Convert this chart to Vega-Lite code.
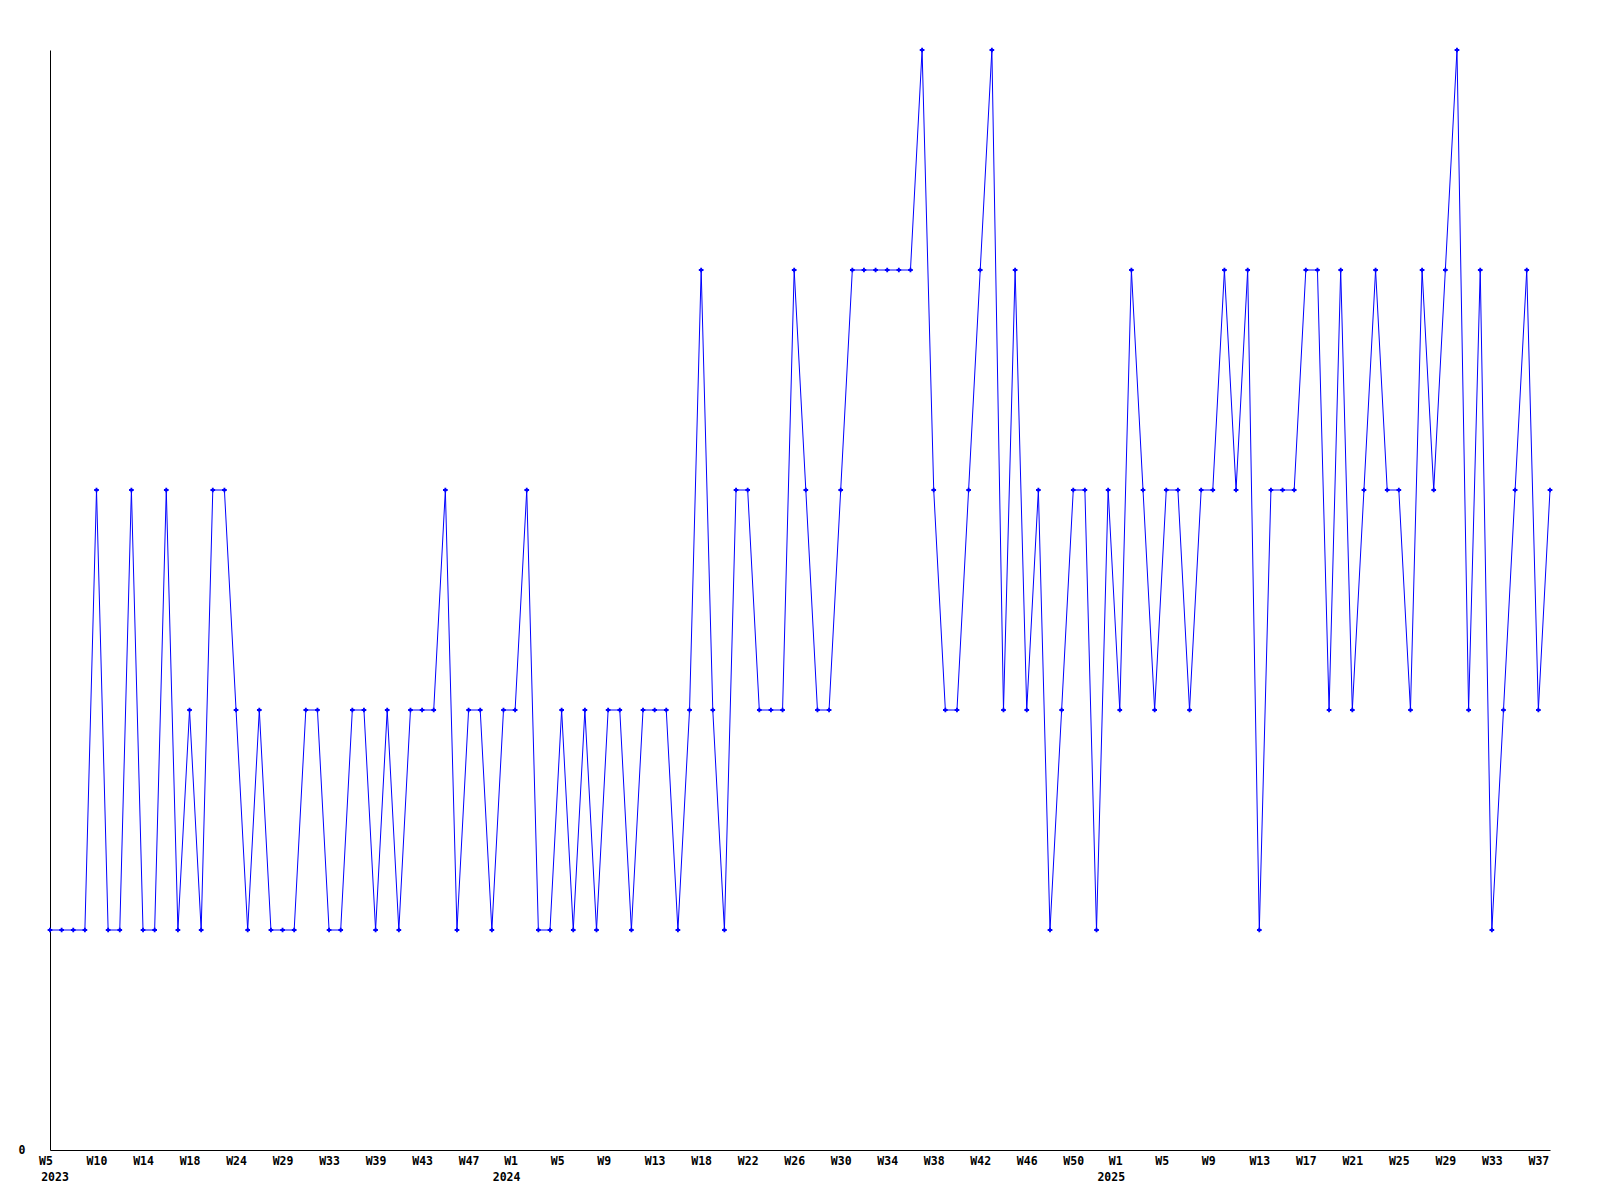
{
  "$schema": "https://vega.github.io/schema/vega-lite/v6.json",
  "width": 1500,
  "height": 1100,
  "autosize": {"type": "none"},
  "padding": {"left": 50, "top": 50, "right": 50, "bottom": 50},
  "background": "white",
  "config": {
    "view": {"stroke": null},
    "font": "DejaVu Sans Mono",
    "axis": {"labelFont": "DejaVu Sans Mono", "labelFontWeight": "bold", "labelFontSize": 11.5, "labelColor": "black", "domainColor": "black", "grid": false, "title": null}
  },
  "data": {"values": [
    {"wk":"2023-W5","v":1},{"wk":"2023-W6","v":1},{"wk":"2023-W7","v":1},{"wk":"2023-W8","v":1},
    {"wk":"2023-W10","v":3},{"wk":"2023-W11","v":1},{"wk":"2023-W12","v":1},{"wk":"2023-W13","v":3},
    {"wk":"2023-W14","v":1},{"wk":"2023-W15","v":1},{"wk":"2023-W16","v":3},{"wk":"2023-W17","v":1},
    {"wk":"2023-W18","v":2},{"wk":"2023-W19","v":1},{"wk":"2023-W20","v":3},{"wk":"2023-W22","v":3},
    {"wk":"2023-W24","v":2},{"wk":"2023-W25","v":1},{"wk":"2023-W26","v":2},{"wk":"2023-W28","v":1},
    {"wk":"2023-W29","v":1},{"wk":"2023-W30","v":1},{"wk":"2023-W31","v":2},{"wk":"2023-W32","v":2},
    {"wk":"2023-W33","v":1},{"wk":"2023-W34","v":1},{"wk":"2023-W36","v":2},{"wk":"2023-W37","v":2},
    {"wk":"2023-W39","v":1},{"wk":"2023-W40","v":2},{"wk":"2023-W41","v":1},{"wk":"2023-W42","v":2},
    {"wk":"2023-W43","v":2},{"wk":"2023-W44","v":2},{"wk":"2023-W45","v":3},{"wk":"2023-W46","v":1},
    {"wk":"2023-W47","v":2},{"wk":"2023-W48","v":2},{"wk":"2023-W50","v":1},{"wk":"2023-W52","v":2},
    {"wk":"2024-W1","v":2},{"wk":"2024-W2","v":3},{"wk":"2024-W3","v":1},{"wk":"2024-W4","v":1},
    {"wk":"2024-W5","v":2},{"wk":"2024-W6","v":1},{"wk":"2024-W7","v":2},{"wk":"2024-W8","v":1},
    {"wk":"2024-W9","v":2},{"wk":"2024-W10","v":2},{"wk":"2024-W11","v":1},{"wk":"2024-W12","v":2},
    {"wk":"2024-W13","v":2},{"wk":"2024-W14","v":2},{"wk":"2024-W15","v":1},{"wk":"2024-W17","v":2},
    {"wk":"2024-W18","v":4},{"wk":"2024-W19","v":2},{"wk":"2024-W20","v":1},{"wk":"2024-W21","v":3},
    {"wk":"2024-W22","v":3},{"wk":"2024-W23","v":2},{"wk":"2024-W24","v":2},{"wk":"2024-W25","v":2},
    {"wk":"2024-W26","v":4},{"wk":"2024-W27","v":3},{"wk":"2024-W28","v":2},{"wk":"2024-W29","v":2},
    {"wk":"2024-W30","v":3},{"wk":"2024-W31","v":4},{"wk":"2024-W32","v":4},{"wk":"2024-W33","v":4},
    {"wk":"2024-W34","v":4},{"wk":"2024-W35","v":4},{"wk":"2024-W36","v":4},{"wk":"2024-W37","v":5},
    {"wk":"2024-W38","v":3},{"wk":"2024-W39","v":2},{"wk":"2024-W40","v":2},{"wk":"2024-W41","v":3},
    {"wk":"2024-W42","v":4},{"wk":"2024-W43","v":5},{"wk":"2024-W44","v":2},{"wk":"2024-W45","v":4},
    {"wk":"2024-W46","v":2},{"wk":"2024-W47","v":3},{"wk":"2024-W48","v":1},{"wk":"2024-W49","v":2},
    {"wk":"2024-W50","v":3},{"wk":"2024-W51","v":3},{"wk":"2024-W52","v":1},{"wk":"2024-W53","v":3},
    {"wk":"2025-W1","v":2},{"wk":"2025-W2","v":4},{"wk":"2025-W3","v":3},{"wk":"2025-W4","v":2},
    {"wk":"2025-W5","v":3},{"wk":"2025-W6","v":3},{"wk":"2025-W7","v":2},{"wk":"2025-W8","v":3},
    {"wk":"2025-W9","v":3},{"wk":"2025-W10","v":4},{"wk":"2025-W11","v":3},{"wk":"2025-W12","v":4},
    {"wk":"2025-W13","v":1},{"wk":"2025-W14","v":3},{"wk":"2025-W15","v":3},{"wk":"2025-W16","v":3},
    {"wk":"2025-W17","v":4},{"wk":"2025-W18","v":4},{"wk":"2025-W19","v":2},{"wk":"2025-W20","v":4},
    {"wk":"2025-W21","v":2},{"wk":"2025-W22","v":3},{"wk":"2025-W23","v":4},{"wk":"2025-W24","v":3},
    {"wk":"2025-W25","v":3},{"wk":"2025-W26","v":2},{"wk":"2025-W27","v":4},{"wk":"2025-W28","v":3},
    {"wk":"2025-W29","v":4},{"wk":"2025-W30","v":5},{"wk":"2025-W31","v":2},{"wk":"2025-W32","v":4},
    {"wk":"2025-W33","v":1},{"wk":"2025-W34","v":2},{"wk":"2025-W35","v":3},{"wk":"2025-W36","v":4},
    {"wk":"2025-W37","v":2},{"wk":"2025-W38","v":3}
  ]},
  "encoding": {
    "x": {
      "field": "wk", "type": "ordinal", "sort": null,
      "scale": {"type": "point", "padding": 0},
      "axis": {
        "values": ["2023-W5","2023-W10","2023-W14","2023-W18","2023-W24","2023-W29","2023-W33","2023-W39","2023-W43","2023-W47","2024-W1","2024-W5","2024-W9","2024-W13","2024-W18","2024-W22","2024-W26","2024-W30","2024-W34","2024-W38","2024-W42","2024-W46","2024-W50","2025-W1","2025-W5","2025-W9","2025-W13","2025-W17","2025-W21","2025-W25","2025-W29","2025-W33","2025-W37"],
        "labelExpr": "datum.value == '2023-W5' ? ['W5\u2800', '\u28002023'] : (indexof(['2024-W1','2025-W1'], datum.value) >= 0 ? ['W1\u2800', split(datum.value,'-')[0] + '\u2800\u2800'] : (length(split(datum.value,'-')[1]) == 2 ? split(datum.value,'-')[1] + '\u2800' : split(datum.value,'-')[1]))",
        "ticks": false, "tickSize": 0, "labelPadding": 5, "labelAngle": 0,
        "labelAlign": "center", "labelLineHeight": 16, "labelOverlap": false, "labelBaseline": "top"
      }
    },
    "y": {
      "field": "v", "type": "quantitative",
      "scale": {"domain": [0, 5], "nice": false, "zero": true},
      "axis": {"values": [0], "ticks": false, "tickSize": 0, "labelPadding": 25, "format": "d"}
    }
  },
  "layer": [
    {"mark": {"type": "line", "color": "#0000ff", "strokeWidth": 1}},
    {"mark": {"type": "point", "shape": "cross", "filled": true, "size": 22, "color": "#0000ff", "opacity": 1}}
  ]
}
